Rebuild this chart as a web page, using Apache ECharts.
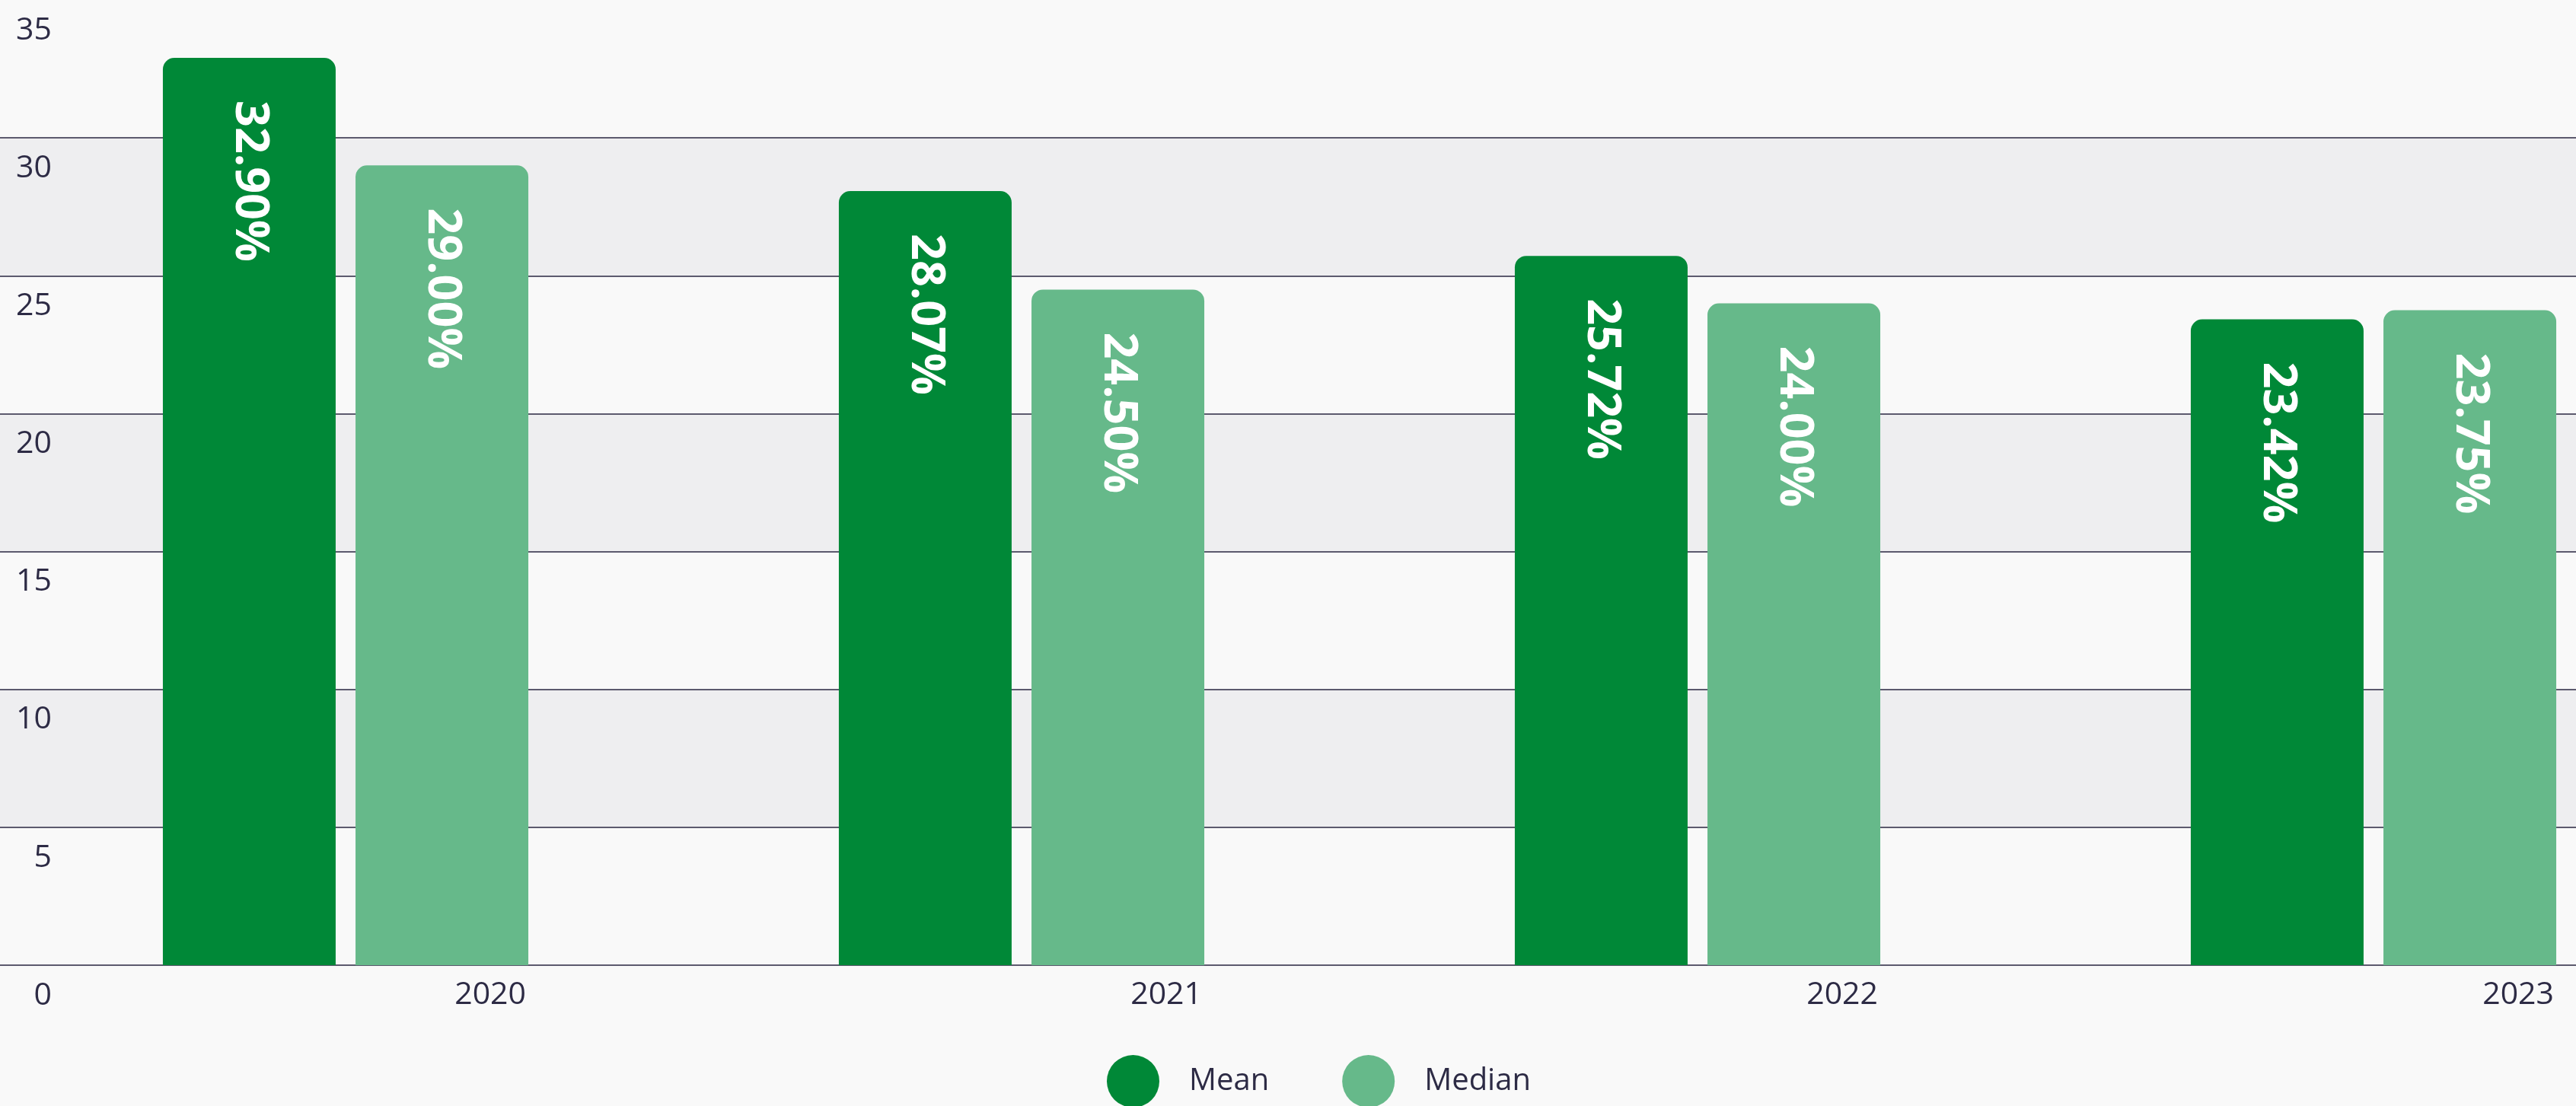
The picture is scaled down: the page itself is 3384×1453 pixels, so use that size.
<!DOCTYPE html>
<html>
<head>
<meta charset="utf-8">
<script src="https://cdn.jsdelivr.net/npm/echarts@6/dist/echarts.min.js"></script>
<style>
html,body{margin:0;padding:0;background:#f9f9f9;}
#chart{width:3384px;height:1453px;}
</style>
</head>
<body>
<div id="chart"></div>
<script>
const categories = ['2020', '2021', '2022', '2023'];
const meanValues = [32.90, 28.07, 25.72, 23.42];
const medianValues = [29.00, 24.50, 24.00, 23.75];
const seriesNames = ['Mean', 'Median'];
const yMin = 0, yMax = 35, yStep = 5;

const textColor = '#2d2b45';
const gridTop = -5, gridBottom = 185;

const chart = echarts.init(document.getElementById('chart'), null, {renderer: 'canvas'});
const valueLabel = {
  show: true,
  position: 'insideTop',
  distance: 56,
  rotate: -90,
  align: 'left',
  verticalAlign: 'middle',
  color: '#ffffff',
  fontFamily: 'Open Sans',
  fontWeight: 'bold',
  fontSize: 61,
  formatter: p => p.value.toFixed(2) + '%'
};
chart.setOption({
  backgroundColor: '#f9f9f9',
  animation: false,
  legend: {
    data: seriesNames,
    icon: 'circle',
    left: 1454,
    top: 1386,
    padding: 0,
    itemWidth: 69,
    itemHeight: 69,
    itemGap: 96,
    textStyle: {fontFamily: 'Open Sans', fontSize: 40, color: textColor, padding: [0, 0, 0, 34]}
  },
  grid: [
    {left: 0, right: 0, top: gridTop, bottom: gridBottom},
    {left: 454, width: 2664, top: gridTop, bottom: gridBottom},
    {left: 691, width: 2664, top: gridTop, bottom: gridBottom}
  ],
  xAxis: [
    {gridIndex: 0, type: 'category', data: categories, show: false},
    {gridIndex: 1, type: 'category', data: categories, boundaryGap: false,
      axisLine: {show: false}, axisTick: {show: false}, axisLabel: {show: false}},
    {gridIndex: 2, type: 'category', data: categories, boundaryGap: false,
      axisLine: {show: false}, axisTick: {show: false},
      axisLabel: {show: true, align: 'right', verticalAlign: 'top', margin: 18,
        fontFamily: 'Open Sans', fontSize: 41, lineHeight: 42, color: textColor}}
  ],
  yAxis: [
    {gridIndex: 0, type: 'value', min: yMin, max: yMax, interval: yStep,
      axisLine: {show: false}, axisTick: {show: false},
      splitLine: {show: true, showMaxLine: false, lineStyle: {color: '#5c5a6e', width: 2}},
      splitArea: {show: true, areaStyle: {color: ['#f9f9f9', '#eeeef0']}},
      axisLabel: {inside: true, align: 'right', verticalAlign: 'top', margin: 68,
        padding: [19, 0, 0, 0], fontFamily: 'Open Sans', fontSize: 41, lineHeight: 42, color: textColor}},
    {gridIndex: 1, type: 'value', min: yMin, max: yMax, interval: yStep, show: false,
      splitLine: {show: false}},
    {gridIndex: 2, type: 'value', min: yMin, max: yMax, interval: yStep, show: false,
      splitLine: {show: false}}
  ],
  series: [
    {name: seriesNames[0], type: 'bar', xAxisIndex: 1, yAxisIndex: 1, data: meanValues,
      barWidth: 227, barGap: '11.5%', clip: false,
      itemStyle: {color: '#008837', borderRadius: [15, 15, 0, 0]},
      label: valueLabel},
    {name: seriesNames[1], type: 'bar', xAxisIndex: 1, yAxisIndex: 1, data: medianValues,
      barWidth: 227, barGap: '11.5%', clip: false,
      itemStyle: {color: '#66b98a', borderRadius: [15, 15, 0, 0]},
      label: valueLabel}
  ]
});
</script>
</body>
</html>
